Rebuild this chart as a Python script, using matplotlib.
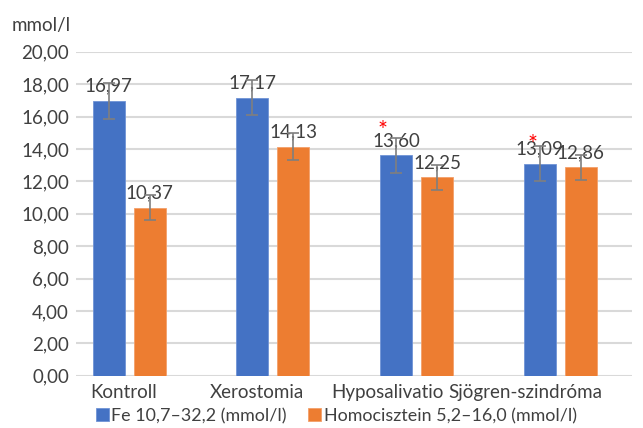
import matplotlib
matplotlib.use("Agg")
import matplotlib.pyplot as plt
import numpy as np

categories = ["Kontroll", "Xerostomia", "Hyposalivatio", "Sjögren-szindróma"]
fe_values = [16.97, 17.17, 13.60, 13.09]
hcy_values = [10.37, 14.13, 12.25, 12.86]
fe_err = [1.10, 1.06, 1.06, 1.07]
hcy_err = [0.76, 0.83, 0.77, 0.77]
fe_label = "Fe 10,7–32,2 (mmol/l)"
hcy_label = "Homocisztein 5,2–16,0 (mmol/l)"
y_ticks = [0, 2, 4, 6, 8, 10, 12, 14, 16, 18, 20]
unit_label = "mmol/l"
significant = [False, False, True, True]

BLUE = "#4472C4"
ORANGE = "#ED7D31"
TXT = "#404040"
FS = 13.5

plt.rcParams['font.family'] = ['Lato', 'DejaVu Sans']

fig = plt.figure(figsize=(6.43, 4.28), dpi=100)
ax = fig.add_axes([76/643, 1-375.7/428, (632-76)/643, (375.7-51.7)/428])

x = np.arange(len(categories))
w = 0.223
off = 0.143
ekw = dict(ecolor="#7f7f7f", elinewidth=1.2, capsize=4.3, capthick=1.2)
b1 = ax.bar(x - off, fe_values, w, color=BLUE, edgecolor="#6f93d6", linewidth=0.6,
            yerr=fe_err, error_kw=ekw, label=fe_label, zorder=2)
b2 = ax.bar(x + off, hcy_values, w, color=ORANGE, edgecolor="#f3a06a", linewidth=0.6,
            yerr=hcy_err, error_kw=ekw, label=hcy_label, zorder=2)

for bars, vals in ((b1, fe_values), (b2, hcy_values)):
    for r, v in zip(bars, vals):
        ax.annotate(f"{v:.2f}".replace(".", ","),
                    (r.get_x() + r.get_width()/2, v),
                    xytext=(0, 6.5), textcoords="offset points",
                    ha="center", va="baseline", fontsize=FS, color=TXT, zorder=1)

# significance markers
star_dx = [0, 0, -0.09, -0.05]
star_dy = [0, 0, 1.55, 1.2]
for i, s in enumerate(significant):
    if s:
        ax.text(x[i] - off + star_dx[i], fe_values[i] + star_dy[i], "*",
                color="red", fontsize=17, ha="center", va="center")

ax.set_ylim(0, 20)
ax.set_xlim(-0.37, 3.5)
ax.set_yticks(y_ticks)
ax.set_yticklabels([f"{t:.2f}".replace(".", ",") for t in y_ticks])
ax.yaxis.grid(True, color="#d9d9d9", linewidth=1.5, zorder=0)
ax.set_axisbelow(True)
for s in ax.spines.values():
    s.set_visible(False)
ax.tick_params(axis="both", length=0, labelsize=FS, labelcolor=TXT)
ax.tick_params(axis="y", pad=5)
ax.tick_params(axis="x", pad=6)

label_shift = [-0.04, -0.11, -0.205, -0.24]
ax.set_xticks(x + np.array(label_shift))
ax.set_xticklabels(categories)

fig.text(12/643, 1-25/428, unit_label, fontsize=FS, color=TXT, va="center", ha="left")

fig.legend(handles=[b1, b2], labels=[fe_label, hcy_label], loc="center",
           bbox_to_anchor=(336.5/643, 1-416/428), ncol=2, frameon=False,
           fontsize=12.9, handlelength=0.72, handleheight=0.72, handletextpad=0.12,
           columnspacing=1.2, labelcolor=TXT, borderpad=0)

fig.savefig("out.png", dpi=100)
